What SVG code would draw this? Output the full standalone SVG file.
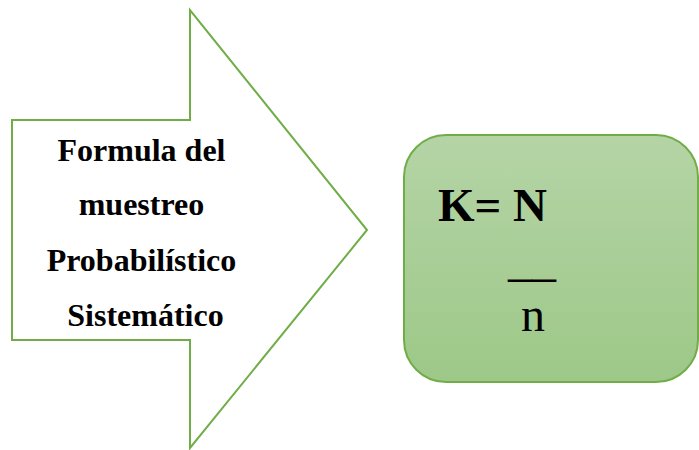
<svg xmlns="http://www.w3.org/2000/svg" width="699" height="450" viewBox="0 0 699 450">
<defs>
<linearGradient id="g" x1="0" y1="0" x2="0" y2="1">
<stop offset="0" stop-color="#b5d4a6"/>
<stop offset="1" stop-color="#9dc888"/>
</linearGradient>
<style>
.o{stroke:#70ad47;stroke-width:2}
.t{fill:#000}
</style>
</defs>
<rect width="699" height="450" fill="#fff"/>
<g id="arrow">
<polygon class="o" fill="#fff" points="12,120 190,120 190,10 367,230 190,448 190,340 12,340"/>
<text class="t" font-family="Liberation Serif, serif" font-size="32" font-weight="bold" text-anchor="middle">
<tspan x="145.5" y="161">Formula del</tspan>
<tspan x="145.5" y="215">muestreo</tspan>
<tspan x="145.5" y="271">Probabilístico</tspan>
<tspan x="145.5" y="326">Sistemático</tspan>
</text>
</g>
<g id="formula">
<rect class="o" fill="url(#g)" stroke-width="1.5" x="404" y="135" width="294" height="247" rx="42" ry="42"/>
<text class="t" font-family="Liberation Serif, serif" font-size="47" font-weight="bold" x="438" y="221">K= N</text>
<text class="t" font-family="Liberation Serif, serif" font-size="48" x="508" y="276">__</text>
<text class="t" font-family="Liberation Serif, serif" font-size="48" x="521" y="331">n</text>
</g>
<g id="connectors"/>
</svg>
